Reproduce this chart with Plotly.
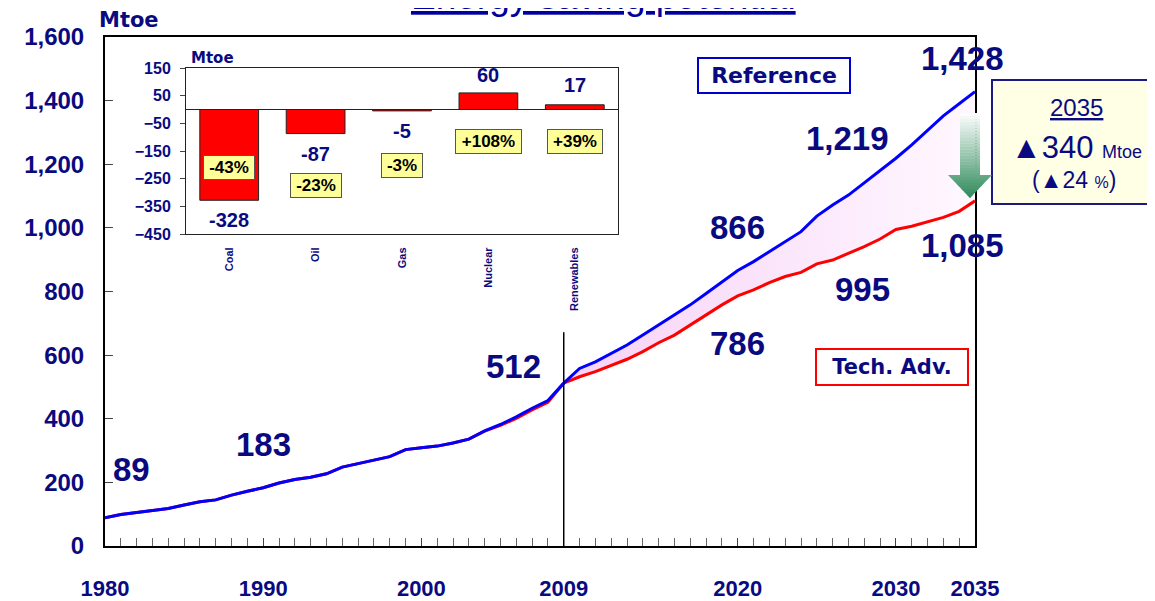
import plotly.graph_objects as go

# ---- data -------------------------------------------------------------
years = list(range(1980, 2036))
hist_years = years[:30]          # 1980-2009
proj_years = years[29:]          # 2009-2035

history = [89, 99, 105, 111, 118, 129, 139, 145, 160, 172,
           183, 198, 209, 216, 227, 248, 260, 270, 281, 303,
           309, 314, 324, 336, 362, 382, 406, 433, 457, 512]
history_tech = [89, 99, 105, 111, 118, 129, 139, 145, 160, 172,
                183, 198, 209, 216, 227, 248, 260, 270, 281, 303,
                309, 314, 324, 336, 361, 379, 401, 428, 452, 512]
reference = [512, 558, 579, 606, 632, 663, 695, 726, 758, 794, 831,
             866, 894, 925, 955, 988, 1037, 1072, 1103, 1142, 1180,
             1219, 1261, 1308, 1352, 1390, 1428]
tech_adv = [512, 532, 548, 567, 587, 611, 639, 663, 695, 726, 758,
            786, 805, 828, 847, 860, 887, 899, 920, 941, 965,
            995, 1005, 1020, 1033, 1052, 1085]

x_tickvals = [1980, 1990, 2000, 2009, 2020, 2030, 2035]

fuels = ["Coal", "Oil", "Gas", "Nuclear", "Renewables"]
fuel_delta = [-328, -87, -5, 60, 17]
fuel_pct = ["-43%", "-23%", "-3%", "+108%", "+39%"]

NAVY = "#0A0A80"
FONT = "Liberation Sans"
WIDE = "DejaVu Sans"

# the page body adds an 8px margin, so the figure sits 8px in from the corner
OFF = 8
W, H = 1155 - OFF, 601 - OFF
# plot-area frame in screen pixels
PL, PR, PT, PB = 105, 975, 37, 546


def px(x):
    return (x - PL) / (PR - PL)


def py(y):
    return (PB - y) / (PB - PT)


fig = go.Figure()

# history (red under blue)
fig.add_trace(go.Scatter(x=hist_years, y=history_tech, mode="lines",
                         line=dict(color="#FF0000", width=3), showlegend=False))
# projection: red first, blue fills down to it
fig.add_trace(go.Scatter(x=proj_years, y=tech_adv, mode="lines",
                         line=dict(color="#FF0000", width=3), showlegend=False))
fig.add_trace(go.Scatter(x=proj_years, y=reference, mode="lines",
                         line=dict(color="#0000FF", width=3), fill="tonexty",
                         fillgradient=dict(type="horizontal",
                                           colorscale=[[0, "#F6D2F6"], [1, "#FFF8FF"]]),
                         showlegend=False))
fig.add_trace(go.Scatter(x=hist_years, y=history, mode="lines",
                         line=dict(color="#0000FF", width=3), showlegend=False))

# inset bar chart
fig.add_trace(go.Bar(x=fuels, y=fuel_delta, xaxis="x2", yaxis="y2", width=0.68,
                     marker=dict(color="#FF0000", line=dict(color="#222222", width=1)),
                     showlegend=False))

ann = []

# value labels on the main chart
main_labels = [
    (1980, history[0], 26, 48),
    (1990, history[10], 0, 43),
    (2009, history[29], -50, 17),
    (2020, reference[11], 0, 43),
    (2020, tech_adv[11], 0, -48),
    (2030, reference[21], -48, 20),
    (2030, tech_adv[21], -33, -60),
    (2035, reference[26], -13, 33),
    (2035, tech_adv[26], -13, -45),
]
for yr, v, dx, dy in main_labels:
    ann.append(dict(x=yr, y=v, xref="x", yref="y", text=f"{v:,}", showarrow=False,
                    xshift=dx, yshift=dy, xanchor="center", yanchor="middle",
                    font=dict(family=FONT, size=33, color=NAVY, weight="bold")))

# inset value labels and percentage boxes
val_shift = [-20, -20, -20, 18, 20]
pct_y = [-208, -276, -204, -114, -114]
pct_w = [46, 46, 36, 61, 50]
for i, f in enumerate(fuels):
    ann.append(dict(x=f, y=fuel_delta[i], xref="x2", yref="y2", text=str(fuel_delta[i]),
                    showarrow=False, yshift=val_shift[i], xanchor="center", yanchor="middle",
                    font=dict(family=FONT, size=20, color=NAVY, weight="bold")))
    ann.append(dict(x=f, y=pct_y[i], xref="x2", yref="y2", text=fuel_pct[i],
                    showarrow=False, width=pct_w[i], height=19, borderpad=2,
                    xanchor="center", yanchor="middle",
                    bgcolor="#FFFF99", bordercolor="#555555", borderwidth=1,
                    font=dict(family=FONT, size=17, color="#000000", weight="bold")))


def note(x, y, text, font, **kw):
    d = dict(x=px(x), y=py(y), xref="paper", yref="paper", text=text,
             showarrow=False, xanchor="center", yanchor="middle", font=font)
    d.update(kw)
    return d


# titles, units and legend boxes
ann += [
    dict(x=px(603), y=py(19), xref="paper", yref="paper", xanchor="center",
         yanchor="bottom", text="<u>Energy saving potential</u>", showarrow=False,
         font=dict(family=FONT, size=37, color="#0000A0")),
    note(97, 20, "Mtoe", dict(family=WIDE, size=21, color=NAVY, weight="bold"),
         xanchor="left"),
    note(189, 58, "Mtoe", dict(family=WIDE, size=15, color=NAVY, weight="bold"),
         xanchor="left"),
    note(774, 75.5, "Reference", dict(family=WIDE, size=22, color=NAVY, weight="bold"),
         width=148, height=31, borderpad=1, bgcolor="white",
         bordercolor="#0000CC", borderwidth=2),
    note(892, 367, "Tech. Adv.", dict(family=WIDE, size=21, color=NAVY, weight="bold"),
         width=148, height=32, borderpad=1, bgcolor="white",
         bordercolor="#FF0000", borderwidth=2),
    note(1076, 108, "<u>2035</u>", dict(family=FONT, size=24, color=NAVY)),
    note(1076, 147, "▲340 <span style='font-size:18px'>Mtoe</span>",
         dict(family=FONT, size=31, color=NAVY)),
    note(1074, 180, "(▲24 <span style='font-size:16px'>%</span>)",
         dict(family=FONT, size=23, color=NAVY)),
]

shapes = [
    # 2009 divider
    dict(type="line", xref="x", yref="y", x0=2009, x1=2009, y0=0, y1=672,
         line=dict(color="black", width=1.5)),
    # summary box on the right
    dict(type="rect", xref="paper", yref="paper", x0=px(992), x1=px(1170),
         y0=py(204), y1=py(80), fillcolor="#FFFFE6", line=dict(color="#1A1A80", width=2),
         layer="below"),
]


# green gradient arrow, built from thin slices
def mix(t):
    a, b = (255, 255, 255), (46, 138, 90)
    return "rgb(%d,%d,%d)" % tuple(round(a[k] + (b[k] - a[k]) * t) for k in range(3))


top, neck, tip = 113, 175, 198
n = 28
for i in range(n):
    y0 = top + (tip - top) * i / n
    y1 = top + (tip - top) * (i + 1) / n
    col = mix((i + 0.5) / n)
    if y1 <= neck:
        path = (f"M{px(960)},{py(y0)} L{px(980)},{py(y0)} "
                f"L{px(980)},{py(y1 + 0.3)} L{px(960)},{py(y1 + 0.3)} Z")
    else:
        ya, yb = max(y0, neck), y1 + 0.3
        wa = 22 * (tip - ya) / (tip - neck)
        wb = 22 * max(tip - yb, 0) / (tip - neck)
        path = (f"M{px(970 - wa)},{py(ya)} L{px(970 + wa)},{py(ya)} "
                f"L{px(970 + wb)},{py(yb)} L{px(970 - wb)},{py(yb)} Z")
        if y0 < neck:
            shapes.append(dict(type="path", xref="paper", yref="paper",
                               path=(f"M{px(960)},{py(y0)} L{px(980)},{py(y0)} "
                                     f"L{px(980)},{py(neck)} L{px(960)},{py(neck)} Z"),
                               fillcolor=col, line=dict(width=0)))
    shapes.append(dict(type="path", xref="paper", yref="paper", path=path,
                       fillcolor=col, line=dict(width=0)))

fig.update_layout(
    width=W, height=H,
    margin=dict(l=PL - OFF, r=W - (PR - OFF), t=PT - OFF, b=H - (PB - OFF),
                autoexpand=False),
    paper_bgcolor="white", plot_bgcolor="white",
    showlegend=False,
    xaxis=dict(range=[1980, 2035], tickmode="array", tickvals=x_tickvals,
               ticks="inside", ticklen=8, tickcolor="#444", automargin=False,
               minor=dict(tickmode="linear", tick0=1980, dtick=1, ticks="inside",
                          ticklen=8, tickcolor="#666"),
               showline=True, linecolor="black", linewidth=2, mirror=True,
               showgrid=False, zeroline=False, ticklabelstandoff=22,
               tickfont=dict(family=FONT, size=22, color=NAVY, weight="bold")),
    yaxis=dict(range=[0, 1600], dtick=200, tickformat=",", ticks="inside",
               ticklen=8, tickcolor="#444", showline=True, linecolor="black",
               linewidth=2, mirror=True, showgrid=False, zeroline=False,
               ticklabelstandoff=14, automargin=False,
               tickfont=dict(family=FONT, size=24, color=NAVY, weight="bold")),
    xaxis2=dict(domain=[px(186), px(618)], anchor="y2", showline=True,
                linecolor="#222", linewidth=1, mirror=True, ticks="",
                tickangle=-90, ticklabelstandoff=8, showgrid=False, automargin=False,
                tickfont=dict(family=FONT, size=11, color=NAVY, weight="bold")),
    yaxis2=dict(domain=[py(234), py(68)], anchor="x2", range=[-450, 150],
                tickmode="array", tickvals=[150, 50, -50, -150, -250, -350, -450],
                ticks="outside", ticklen=5, tickcolor="#444", showline=True,
                linecolor="#222", linewidth=1, mirror=True, showgrid=False,
                zeroline=True, zerolinecolor="#222", zerolinewidth=1,
                ticklabelstandoff=6, automargin=False,
                tickfont=dict(family=FONT, size=16, color=NAVY, weight="bold")),
    annotations=ann,
    shapes=shapes,
)

fig.write_html("out.html")
